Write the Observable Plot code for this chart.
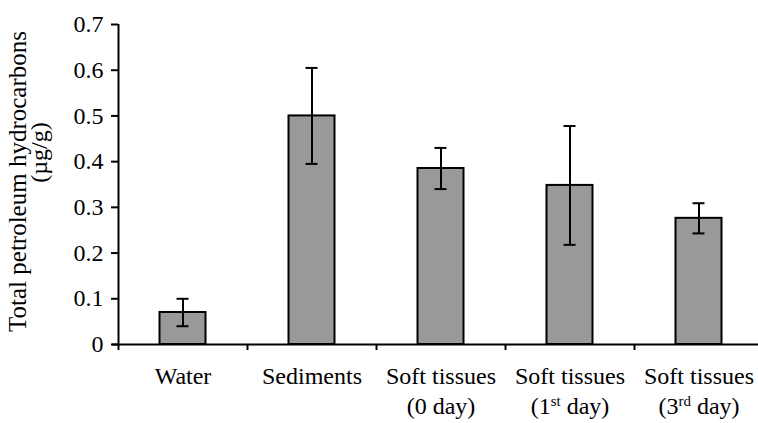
<!DOCTYPE html>
<html>
<head>
<meta charset="utf-8">
<script src="https://cdn.jsdelivr.net/npm/d3@7"></script>
<script src="https://cdn.jsdelivr.net/npm/@observablehq/plot@0.6"></script>
<style>
  html, body { margin: 0; padding: 0; background: #fff; }
  #chart svg { display: block; }
</style>
</head>
<body>
<div id="chart"></div>
<script>
// ---- data ----
const categories = ["Water", "Sediments", "Soft tissues\n(0 day)", "Soft tissues\n(1st day)", "Soft tissues\n(3rd day)"];
const means = [0.07, 0.5, 0.385, 0.348, 0.276];
const errors = [0.03, 0.105, 0.045, 0.13, 0.033];
const yTicks = [0, 0.1, 0.2, 0.3, 0.4, 0.5, 0.6, 0.7];
const yTickLabels = ["0", "0.1", "0.2", "0.3", "0.4", "0.5", "0.6", "0.7"];
const yLabelLines = ["Total petroleum hydrocarbons", "(µg/g)"];

const data = categories.map((c, i) => ({cat: c, mean: means[i], lo: means[i] - errors[i], hi: means[i] + errors[i]}));

const W = 758, H = 423;
const xRange = [118, 763];
const half = (xRange[1] - xRange[0]) / categories.length / 2;
const font = "Liberation Serif";

const chart = Plot.plot({
  width: W,
  height: H,
  marginLeft: 118,
  marginRight: 0,
  marginTop: 24,
  marginBottom: 79,
  style: {fontFamily: font, fontSize: "24px", background: "#fff", color: "#000"},
  x: {domain: categories, range: xRange, padding: 0, axis: null},
  y: {domain: [0, 0.7], axis: null},
  marks: [
    Plot.barY(data, {x: "cat", y: "mean", fill: "#999999", stroke: "#000", strokeWidth: 2, insetLeft: 41.5, insetRight: 41.5}),
    Plot.ruleX(data, {x: "cat", y1: "lo", y2: "hi", stroke: "#000", strokeWidth: 2}),
    Plot.tickY(data, {x: "cat", y: "hi", stroke: "#000", strokeWidth: 2, insetLeft: 58.5, insetRight: 58.5}),
    Plot.tickY(data, {x: "cat", y: "lo", stroke: "#000", strokeWidth: 2, insetLeft: 58.5, insetRight: 58.5}),
    // y axis
    Plot.axisY({ticks: yTicks, tickFormat: (d) => yTickLabels[yTicks.indexOf(d)], tickSize: 7, tickPadding: 8, strokeWidth: 2, fontSize: 24, label: null}),
    Plot.ruleX([categories[0]], {x: (d) => d, y1: 0, y2: 0.7, dx: -half, stroke: "#000", strokeWidth: 2}),
    // x axis line and ticks at band edges
    Plot.ruleY([0], {stroke: "#000", strokeWidth: 2, insetLeft: -6}),
    Plot.axisX({tickSize: 6, tickFormat: () => "", dx: -half, strokeWidth: 2, label: null}),
    // x labels
    Plot.text(categories, {x: (d) => d, frameAnchor: "bottom", lineAnchor: "top", dy: 18, lineHeight: 1.25, fontSize: 24, fill: "#000"}),
    // y label
    Plot.text([yLabelLines[0]], {text: (d) => d, frameAnchor: "left", textAnchor: "middle", rotate: -90, dx: -101, dy: -3, fontSize: 25, fill: "#000"}),
    Plot.text([yLabelLines[1]], {text: (d) => d, frameAnchor: "left", textAnchor: "middle", rotate: -90, dx: -79, dy: -32, fontSize: 24, fill: "#000"})
  ]
});

// superscript ordinals (1st, 3rd)
d3.select(chart).selectAll("tspan, text").each(function () {
  const el = this;
  if (el.children.length) return;
  const t = el.textContent;
  const m = t.match(/^\((\d)(st|rd)( day\))$/);
  if (!m) return;
  el.textContent = "";
  const ns = "http://www.w3.org/2000/svg";
  el.appendChild(document.createTextNode("(" + m[1]));
  const sup = document.createElementNS(ns, "tspan");
  sup.setAttribute("baseline-shift", "super");
  sup.setAttribute("font-size", "0.62em");
  sup.textContent = m[2];
  el.appendChild(sup);
  el.appendChild(document.createTextNode(m[3]));
});

document.getElementById("chart").appendChild(chart);
</script>
</body>
</html>
